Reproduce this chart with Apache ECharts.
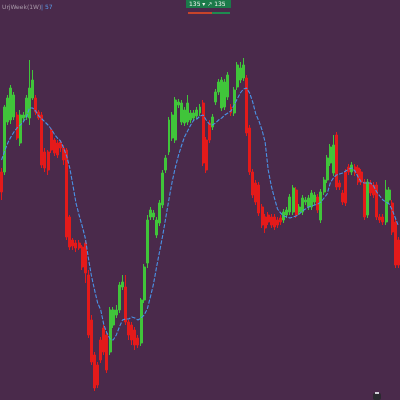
<!DOCTYPE html>
<html><head><meta charset="utf-8">
<script src="https://cdn.jsdelivr.net/npm/echarts@6/dist/echarts.min.js"></script>
<style>html,body{margin:0;padding:0;background:#4a2a4b;}#c{width:400px;height:400px;}</style>
</head><body><div id="c"></div>
<script>
// [open, close, low, high]
const candles = [
[228,208,200,232],[228,293,225,295],[278,302,275,305],[280,312,276,315],[283,305,280,308],
[285,262,260,288],[257,285,254,290],[282,285,278,288],[283,302,280,305],[282,312,275,340],
[302,320,300,330],[302,288,285,305],[288,282,280,290],[285,235,232,288],[248,232,228,252],
[248,230,225,250],[270,250,247,272],[260,247,244,262],[257,245,242,260],[258,252,248,260],
[252,240,235,255],[250,163,160,252],[183,153,150,185],[160,154,150,162],[157,152,148,160],
[157,152,150,160],[153,133,130,155],[157,127,117,160],[125,65,62,130],[80,38,35,85],
[45,12,9,48],[35,15,12,38],[60,40,37,63],[72,48,45,75],[65,30,27,68],
[48,90,45,93],[75,90,72,93],[85,90,82,95],[90,115,87,118],[113,118,110,125],
[113,78,75,125],[78,65,60,80],[75,60,55,78],[70,55,50,73],[62,55,52,65],
[57,100,54,102],[100,133,97,136],[137,180,132,185],[183,190,180,193],[183,187,180,190],
[165,180,162,183],[177,197,174,200],[195,227,192,230],[230,242,227,245],[248,280,245,283],
[262,285,259,288],[260,300,257,303],[295,298,292,301],[278,297,275,300],[277,290,274,293],
[278,297,275,305],[280,287,277,290],[282,287,279,290],[284,290,281,293],[287,293,284,296],
[297,237,234,300],[260,230,227,263],[277,260,257,280],[273,283,270,286],[298,308,295,311],
[308,318,305,321],[292,320,289,323],[293,318,290,321],[303,325,300,328],[293,287,284,296],
[287,310,284,313],[313,335,310,338],[320,332,317,338],[322,335,319,342],[322,267,264,325],
[272,228,225,275],[228,205,202,231],[217,198,195,220],[215,187,184,218],[193,175,172,196],
[183,172,167,186],[185,178,175,188],[183,175,172,186],[183,173,170,186],[180,175,172,183],
[182,178,175,185],[180,188,177,191],[185,190,182,193],[188,203,185,206],[188,212,185,215],
[210,185,182,213],[188,193,185,196],[188,202,185,205],[198,200,195,203],[193,202,190,205],
[193,207,190,210],[198,205,195,208],[203,190,187,206],[180,208,177,211],[208,220,205,223],
[220,242,217,245],[237,253,234,256],[227,255,224,265],[265,213,210,268],[217,213,210,220],
[207,198,195,210],[228,197,194,231],[233,228,225,236],[228,235,225,238],[233,227,224,236],
[232,218,215,235],[228,218,215,231],[218,183,180,221],[185,218,182,221],[217,207,204,220],
[215,205,202,218],[215,183,180,218],[183,180,177,186],[183,178,175,186],[178,210,175,220],
[200,210,197,213],[197,168,165,200],[178,135,132,181],[160,135,132,163]
];
const maLine = [
240,249,257,263,268,272,275,278,283,292,292,289,284,281,278,275,271,266,262,259,
252,244,232,215,197,185,174,162,142,124,110,97,90,75,67,61,60,65,73,80,
81,81,83,82,80,82,85,91,103,116,133,149,165,183,201,218,232,244,254,263,
269,275,280,281,284,285,280,276,275,277,280,282,285,287,289,295,301,307,311,312,
307,298,286,279,270,258,230,214,202,191,187,184,183,182,183,184,186,189,191,193,
194,195,196,198,202,206,217,222,225,226,227,229,231,232,229,223,218,217,217,217,
214,208,204,200,198,196,190,182,174
];
const categories = candles.map((_, i) => 'W' + (i + 1));
const titleLeft = 'UrjWeek(1W)';
const titleRight = '| 57';
const badgeText = '135 ▾ ↗ 135';

const chart = echarts.init(document.getElementById('c'), null, {renderer: 'canvas'});
chart.setOption({
  animation: false,
  backgroundColor: '#4a2a4b',
  grid: {left: 0, right: 0, top: 0, bottom: 0},
  xAxis: {type: 'category', data: categories, show: false, boundaryGap: true},
  yAxis: {type: 'value', min: 0, max: 400, show: false, splitLine: {show: false}},
  series: [
    {
      type: 'candlestick',
      data: candles,
      barWidth: '80%',
      itemStyle: {
        color: '#40c53a', color0: '#e41a1a',
        borderColor: '#40c53a', borderColor0: '#e41a1a', borderWidth: 1
      }
    },
    {
      type: 'line',
      data: maLine,
      symbol: 'none',
      smooth: false,
      lineStyle: {color: '#4a92e6', width: 1.1, type: [4, 1.5]},
      z: 5
    }
  ],
  graphic: [
    {type: 'text', left: 2, top: 4, style: {text: titleLeft, fill: '#a898a8', font: '6px "DejaVu Sans"'}},
    {type: 'text', left: 41, top: 4, style: {text: titleRight, fill: '#5a9ae8', font: '6px "DejaVu Sans"'}},
    {type: 'rect', shape: {x: 186, y: 0, width: 45, height: 8}, style: {fill: '#1b7a4a'}},
    {type: 'text', left: 189, top: 1, style: {text: badgeText, fill: '#e8f0e8', font: '6px "DejaVu Sans"'}},
    {type: 'rect', shape: {x: 188, y: 12, width: 24, height: 2}, style: {fill: '#c8442a'}},
    {type: 'rect', shape: {x: 212, y: 12, width: 18, height: 2}, style: {fill: '#1f8a50'}},
    {type: 'rect', shape: {x: 373, y: 393, width: 8, height: 7, r: 2}, style: {fill: '#2a2a30'}},
    {type: 'rect', shape: {x: 375, y: 392, width: 4, height: 2}, style: {fill: '#cfcfd6'}}
  ]
});
</script></body></html>
